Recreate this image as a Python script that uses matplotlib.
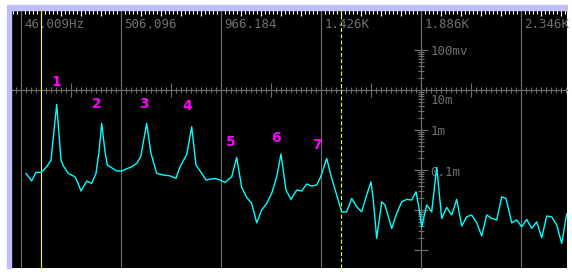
"""Spectrum analyser screenshot: harmonic peaks 1-7 on a log amplitude scale."""

import matplotlib

matplotlib.use("Agg")
import matplotlib.pyplot as plt
import numpy as np
from matplotlib.patches import Rectangle

# Trace: frequency (Hz) and level (dBV).
freq_hz = [69.0, 95.2, 115.0, 138.0, 164.3, 184.0, 210.3, 230.0, 240.6, 263.6,
           294.5, 306.9, 322.1, 348.3, 371.3, 391.1, 404.9, 417.3, 432.5, 443.1,
           463.3, 486.3, 509.3, 529.1, 555.3, 578.3, 596.7, 624.3, 644.1, 670.3,
           700.7, 731.5, 759.1, 777.6, 808.4, 831.4, 851.2, 877.4, 897.2, 938.6,
           961.6, 984.6, 1015.4, 1038.4, 1061.4, 1084.4, 1107.4, 1130.4, 1153.4, 1176.4,
           1199.5, 1222.5, 1242.2, 1265.2, 1288.3, 1314.5, 1337.5, 1360.5, 1383.5, 1406.5,
           1424.9, 1452.5, 1475.5, 1498.5, 1521.5, 1544.5, 1567.5, 1590.5, 1613.5, 1636.5,
           1656.3, 1666.9, 1682.5, 1705.6, 1720.7, 1751.6, 1774.6, 1797.6, 1820.6, 1843.6,
           1863.4, 1878.6, 1889.6, 1912.6, 1935.6, 1958.6, 1981.6, 2004.6, 2027.6, 2050.6,
           2073.6, 2096.6, 2119.6, 2142.7, 2165.7, 2188.7, 2211.7, 2234.7, 2257.7, 2277.4,
           2303.7, 2326.7, 2349.7, 2372.7, 2395.7, 2418.7, 2441.7, 2464.7, 2487.7, 2510.7,
           2533.7, 2556.7]
level_dbv = [-81.7, -85.5, -81.2, -81.2, -78.4, -75.0, -47.2, -75.0, -77.9, -81.7,
             -83.4, -86.2, -90.5, -85.5, -86.7, -81.7, -70.9, -56.7, -70.9, -77.5,
             -78.9, -80.5, -80.5, -79.5, -78.4, -76.7, -73.4, -56.7, -71.7, -81.7,
             -82.5, -82.9, -84.2, -78.4, -72.2, -58.4, -77.5, -81.7, -85.0, -84.2,
             -85.0, -86.2, -83.4, -73.7, -88.7, -93.7, -96.7, -106.4, -100.0, -96.7,
             -91.7, -83.4, -72.0, -90.0, -94.7, -90.0, -90.5, -87.0, -88.0, -87.5,
             -83.4, -74.2, -84.2, -92.5, -100.9, -100.9, -94.2, -98.4, -100.9, -92.5,
             -85.9, -95.0, -114.2, -95.9, -97.5, -109.2, -101.7, -95.9, -94.7, -95.0,
             -90.9, -100.0, -108.4, -97.5, -100.9, -78.7, -104.2, -98.7, -102.5, -94.7,
             -108.0, -103.4, -102.5, -106.4, -113.0, -102.5, -104.2, -105.0, -93.4, -94.2,
             -106.4, -105.0, -108.4, -104.7, -109.2, -105.9, -113.9, -103.0, -103.4, -107.5,
             -116.7, -102.0]

# Peak numbers (text placed above each harmonic), Hz / dBV.
peak_labels = ["1", "2", "3", "4", "5", "6", "7"]
peak_label_hz = [207.0, 395.7, 612.0, 810.0, 1012.0, 1219.0, 1408.0]
peak_label_dbv = [-36.0, -47.0, -47.0, -48.0, -66.0, -64.0, -67.5]

# Screen axis settings.
f_start = 46.009
f_div = 460.087
grid_labels = ["46.009Hz", "506.096", "966.184", "1.426K", "1.886K", "2.346K"]
level_labels = ["100mv", "10m", "1m", "0.1m"]
level_label_v = [1e-1, 1e-2, 1e-3, 1e-4]
level_label_drop = [-1.0, -7.5, -1.0, -2.0]   # pt below the decade tick
cursor_hz = [138.0, 1518.3]
ref_level_v = 0.01

GRAY = "#707070"
W, H = 572, 274

fig = plt.figure(figsize=(W / 100, H / 100), dpi=100)
fig.patch.set_facecolor("white")
fig.patches.append(Rectangle((7 / W, (H - 10) / H), 560 / W, 5 / H,
                             transform=fig.transFigure, color="#c0c0f8"))
fig.patches.append(Rectangle((7 / W, (H - 268) / H), 4 / W, 258 / H,
                             transform=fig.transFigure, color="#c0c0f8"))

ax = fig.add_axes([11 / W, (H - 268) / H, 556 / W, 258 / H])
ax.set_facecolor("black")
ax.set_yscale("log")
ax.set_xlim(0.0, 556 * f_div / 100)
ax.set_ylim(10 ** (-129 / 20), 1.0)

# Vertical grid and frequency readouts.
grid_hz = [f_start + k * f_div for k in range(len(grid_labels))]
for g, lab in zip(grid_hz, grid_labels):
    ax.axvline(g, color=GRAY, lw=0.8, zorder=1)
    ax.annotate(lab, xy=(g, 1.0), xycoords=("data", "axes fraction"),
                xytext=(2.5, -10.3), textcoords="offset points",
                ha="left", va="center", color=GRAY, fontsize=9,
                family="DejaVu Sans Mono")

# Rulers through the reference level and the 1.886K line.
ax.spines["bottom"].set_position(("data", ref_level_v))
ax.spines["left"].set_position(("data", grid_hz[4]))
for s in ("bottom", "left"):
    ax.spines[s].set_color(GRAY)
    ax.spines[s].set_linewidth(0.8)
    ax.spines[s].set_zorder(1.5)
ax.spines["top"].set_visible(False)
ax.spines["right"].set_visible(False)

ax.set_xticks(np.arange(f_start, 2558, f_div / 2))
ax.set_xticks(np.arange(f_start - 2 * f_div / 20, 2558, f_div / 20), minor=True)
ax.tick_params(axis="x", which="major", direction="inout", length=10,
               width=0.8, color=GRAY, labelbottom=False)
ax.tick_params(axis="x", which="minor", direction="inout", length=5,
               width=0.8, color=GRAY)

decades = [10.0 ** k for k in range(-6, 0)]
ax.set_yticks(decades)
ax.set_yticks([m * d for d in decades[:-1] for m in range(2, 10)], minor=True)
ax.tick_params(axis="y", which="major", direction="inout", length=9.5,
               width=0.8, color=GRAY, labelleft=False)
ax.tick_params(axis="y", which="minor", direction="inout", length=4.5,
               width=0.8, color=GRAY)

for v, lab, dy in zip(level_label_v, level_labels, level_label_drop):
    ax.annotate(lab, xy=(grid_hz[4], v), xytext=(6.5, dy),
                textcoords="offset points", ha="left", va="center",
                color=GRAY, fontsize=9, family="DejaVu Sans Mono")

# Top ruler.
top = ax.secondary_xaxis("top")
top.set_xticks(np.arange(f_start, 2558, f_div / 5))
top.set_xticks(np.arange(f_start - 2 * f_div / 25, 2558, f_div / 25), minor=True)
top.tick_params(which="major", direction="in", length=4.5, width=0.8,
                color="white", labeltop=False)
top.tick_params(which="minor", direction="in", length=3, width=0.8,
                color="white")
top.spines["top"].set_visible(False)

# Cursors.
ax.axvline(cursor_hz[0], color="#ffff00", lw=0.8, zorder=2)
ax.axvline(cursor_hz[1], color="#ffff00", lw=0.8, ls=(0, (3.6, 2)), zorder=2)

# Trace.
amp_v = 10 ** (np.array(level_dbv) / 20)
ax.plot(freq_hz, amp_v, color="#00ffff", lw=1.0, zorder=3)

for lab, fx, ly in zip(peak_labels, peak_label_hz, peak_label_dbv):
    ax.text(fx, 10 ** (ly / 20), lab, color="#ff00ff", fontsize=10,
            fontweight="bold", ha="center", va="center", zorder=4)

fig.savefig("out.png", dpi=100, facecolor=fig.get_facecolor())
